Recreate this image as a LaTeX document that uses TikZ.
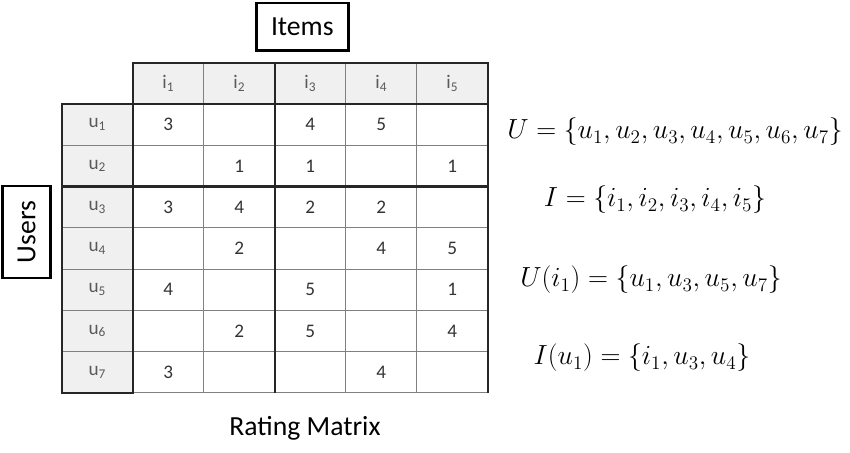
\documentclass[tikz,border=0pt]{standalone}
\usepackage{fontspec}
\setmainfont{Carlito}
\usetikzlibrary{matrix, positioning}

\begin{document}
\begin{tikzpicture}[
    x=0.75pt, y=0.75pt,
    every node/.style={font=\Large},
    cell/.style={draw=black!50, line width=0.8pt, minimum width=53.25pt, minimum height=30.94pt, inner sep=0pt, outer sep=0pt, anchor=center, text=black!80},
    head/.style={fill=gray!12, text=black!65},
    blank/.style={draw=none, fill=none},
    grid line/.style={line width=1.6pt, draw=black!85},
    label box/.style={draw=black, line width=2.2pt, font=\huge, inner sep=0pt, minimum width=69pt, minimum height=35.5pt}
]
   \useasboundingbox (0,0) rectangle (850,453);

   % Rating matrix: users down, items across
   \matrix (rm) [matrix of nodes, nodes in empty cells, inner sep=0pt, column sep=-0.8pt, row sep=-0.8pt,
                 anchor=north west, nodes={cell},
                 row 1/.style={nodes={head}}, column 1/.style={nodes={head}}] at (61,391) {
      |[blank]| & i\textsubscript{1} & i\textsubscript{2} & i\textsubscript{3} & i\textsubscript{4} & i\textsubscript{5} \\
      u\textsubscript{1} & 3 &   & 4 & 5 &   \\
      u\textsubscript{2} &   & 1 & 1 &   & 1 \\
      u\textsubscript{3} & 3 & 4 & 2 & 2 &   \\
      u\textsubscript{4} &   & 2 &   & 4 & 5 \\
      u\textsubscript{5} & 4 &   & 5 &   & 1 \\
      u\textsubscript{6} &   & 2 & 5 &   & 4 \\
      u\textsubscript{7} & 3 &   &   & 4 &   \\
   };

   % Heavy rules of the table
   \draw[grid line] (rm-2-1.north west) rectangle (rm-8-1.south east);
   \draw[grid line] (rm-1-2.north west) rectangle (rm-1-6.south east);
   \draw[grid line] (rm-1-6.north east) -- (rm-8-6.south east);
   \draw[grid line] (rm-1-3.north east) -- (rm-8-3.south east);
   \draw[grid line] (rm-4-1.north west) -- (rm-4-6.north east);

   % Axis labels
   \node[label box] (items) [above=8.25pt of rm-1-4, xshift=-6pt] {Items};
   \node[label box, rotate=90] (users) at (26.5,221) {Users};
   \node[font=\huge] (title) at (305,25) {Rating Matrix};

   % Sets
   \node[font=\huge] (setU) at (675,321) {$U=\{u_1,u_2,u_3,u_4,u_5,u_6,u_7\}$};
   \node[font=\huge] (setI) at (655,253) {$I=\{i_1,i_2,i_3,i_4,i_5\}$};
   \node[font=\huge] (Ui1) at (651,173) {$U(i_1)=\{u_1,u_3,u_5,u_7\}$};
   \node[font=\huge] (Iu1) at (642,95) {$I(u_1)=\{i_1,u_3,u_4\}$};
\end{tikzpicture}
\end{document}
